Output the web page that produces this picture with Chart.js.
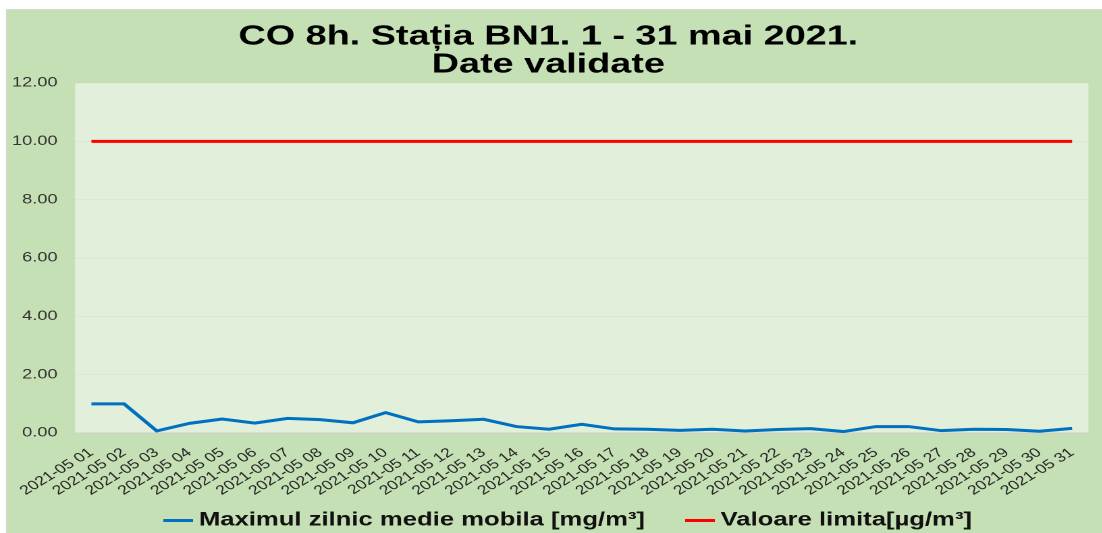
<!DOCTYPE html>
<html>
<head>
<meta charset="utf-8">
<script src="https://cdn.jsdelivr.net/npm/chart.js@4.4.1/dist/chart.umd.min.js"></script>
<style>
  html, body { margin: 0; padding: 0; background: #ffffff; overflow: hidden; }
  #wrap { position: absolute; left: 0; top: 0; width: 816px; height: 533px;
          transform: scaleX(1.35); transform-origin: 0 0; }
</style>
</head>
<body>
<div id="wrap"><canvas id="c"></canvas></div>
<script>
const categories = [
  "2021-05 01","2021-05 02","2021-05 03","2021-05 04","2021-05 05","2021-05 06","2021-05 07",
  "2021-05 08","2021-05 09","2021-05 10","2021-05 11","2021-05 12","2021-05 13","2021-05 14",
  "2021-05 15","2021-05 16","2021-05 17","2021-05 18","2021-05 19","2021-05 20","2021-05 21",
  "2021-05 22","2021-05 23","2021-05 24","2021-05 25","2021-05 26","2021-05 27","2021-05 28",
  "2021-05 29","2021-05 30","2021-05 31"
];
const maxDailyValues = [1.00,1.00,0.07,0.33,0.48,0.34,0.50,0.46,0.35,0.70,0.38,0.42,0.47,0.22,
  0.13,0.30,0.14,0.13,0.09,0.13,0.07,0.12,0.15,0.05,0.22,0.22,0.08,0.13,0.12,0.06,0.16];
const limitValues = [10,10,10,10,10,10,10,10,10,10,10,10,10,10,10,10,10,10,10,10,10,10,10,10,10,10,10,10,10,10,10];
const seriesNames = ["Maximul zilnic medie mobila [mg/m\u00B3]", "Valoare limita[\u00B5g/m\u00B3]"];
const seriesColors = ['#0070c0', '#ff0000'];
const titleLines = ["CO 8h. Sta\u021Bia BN1. 1 - 31 mai 2021.", "Date validate"];
const yTickMin = 0, yTickMax = 12, yTickStep = 2;

function legendLine(color) {
  const c = document.createElement('canvas');
  c.width = 22; c.height = 3;
  const g = c.getContext('2d');
  g.fillStyle = color;
  g.fillRect(0, 0, 22, 3);
  return c;
}

const bgPlugin = {
  id: 'bg',
  beforeDraw(chart) {
    const ctx = chart.ctx, w = chart.width, h = chart.height, a = chart.chartArea;
    ctx.save();
    ctx.fillStyle = '#ffffff';
    ctx.fillRect(0, 0, w, h);
    ctx.fillStyle = '#d9d9d9';
    ctx.fillRect(4.4, 9, w, h);
    ctx.fillStyle = '#c5e0b4';
    ctx.fillRect(5.2, 10, w, h);
    ctx.fillStyle = '#e2efda';
    ctx.fillRect(a.left, a.top, a.right - a.left, a.bottom - a.top);
    ctx.restore();
  }
};

const legendShift = {
  id: 'legendShift',
  afterLayout(chart) {
    if (chart.legend) { chart.legend.left += 17; chart.legend.right += 17; }
  }
};

new Chart(document.getElementById('c'), {
  type: 'line',
  data: {
    labels: categories,
    datasets: [
      { label: seriesNames[0], data: maxDailyValues, borderColor: seriesColors[0], backgroundColor: seriesColors[0],
        borderWidth: 3, pointRadius: 0, tension: 0, fill: false, pointStyle: legendLine(seriesColors[0]) },
      { label: seriesNames[1], data: limitValues, borderColor: seriesColors[1], backgroundColor: seriesColors[1],
        borderWidth: 3, pointRadius: 0, tension: 0, fill: false, pointStyle: legendLine(seriesColors[1]) }
    ]
  },
  options: {
    responsive: true,
    maintainAspectRatio: false,
    animation: false,
    devicePixelRatio: 2,
    layout: { padding: { left: 0, right: 3.7, top: 0, bottom: -7 } },
    plugins: {
      title: {
        display: true,
        text: titleLines,
        color: '#000000',
        font: { family: 'Liberation Sans', size: 28, weight: 'bold', lineHeight: '28px' },
        padding: { top: 23, bottom: 4 }
      },
      legend: {
        position: 'bottom',
        labels: {
          usePointStyle: true,
          pointStyleWidth: 11.5,
          boxHeight: 3,
          padding: 35,
          color: '#111111',
          font: { family: 'Liberation Sans', size: 19, weight: 'bold' }
        }
      },
      tooltip: { enabled: false }
    },
    scales: {
      x: {
        offset: true,
        afterFit(scale) {
          scale.height = 43;
          scale._computeLabelArea = function () { return undefined; };
        },
        grid: { display: false, drawTicks: false },
        border: { display: true, color: '#d0d0d0', width: 1 },
        ticks: {
          autoSkip: false, minRotation: 39, maxRotation: 39, padding: 12,
          color: '#262626',
          font: { family: 'Liberation Sans', size: 13 }
        }
      },
      y: {
        min: yTickMin, max: yTickMax,
        afterFit(scale) { scale.width = 55.6; },
        grid: { color: 'rgba(200,205,195,0.2)', tickLength: 6, drawTicks: true },
        border: { display: false },
        ticks: {
          stepSize: yTickStep, padding: 7,
          color: '#333333',
          font: { family: 'Liberation Sans', size: 13.5 },
          callback: (v) => Number(v).toFixed(2)
        }
      }
    }
  },
  plugins: [bgPlugin, legendShift]
});
</script>
</body>
</html>
